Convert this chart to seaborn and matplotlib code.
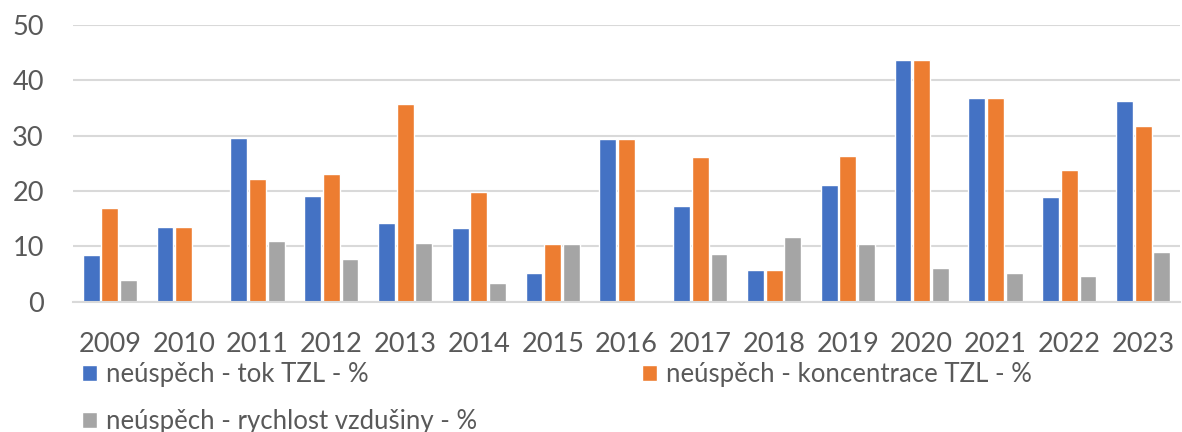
import matplotlib
matplotlib.use("Agg")
import matplotlib.pyplot as plt
from matplotlib.patches import Patch
import seaborn as sns
import pandas as pd

years = ["2009", "2010", "2011", "2012", "2013", "2014", "2015", "2016",
         "2017", "2018", "2019", "2020", "2021", "2022", "2023"]
tok_tzl = [8.4, 13.5, 29.5, 19.1, 14.2, 13.3, 5.1, 29.4, 17.3, 5.8, 21.0, 43.7, 36.8, 19.0, 36.3]
koncentrace_tzl = [16.9, 13.5, 22.1, 23.1, 35.7, 19.9, 10.4, 29.4, 26.1, 5.8, 26.3, 43.7, 36.8, 23.8, 31.8]
rychlost_vzdusiny = [4.0, 0.0, 11.0, 7.7, 10.6, 3.3, 10.4, 0.0, 8.6, 11.7, 10.4, 6.1, 5.1, 4.7, 9.0]
series_names = ["neúspěch - tok TZL - %",
                "neúspěch - koncentrace TZL - %",
                "neúspěch - rychlost vzdušiny - %"]
colors = ["#4472C4", "#ED7D31", "#A5A5A5"]

df = pd.DataFrame({
    "rok": years * 3,
    "hodnota": tok_tzl + koncentrace_tzl + rychlost_vzdusiny,
    "serie": [series_names[0]] * len(years) + [series_names[1]] * len(years)
             + [series_names[2]] * len(years),
})

sns.set_theme(style="white")
plt.rcParams["font.family"] = ["Lato", "DejaVu Sans"]
text_color = "#595959"
grid_color = "#D9D9D9"

fig = plt.figure(figsize=(11.82, 4.32), dpi=100)
ax = fig.add_axes([73 / 1182, 130.3 / 432, 1107 / 1182, 276.7 / 432])

sns.barplot(data=df, x="rok", y="hodnota", hue="serie", order=years,
            hue_order=series_names, palette=colors, width=0.76, gap=0.1,
            saturation=1, ax=ax, legend=False)

ax.set_ylim(0, 50)
ax.set_yticks(range(0, 51, 10))
ax.set_xlim(-0.5, len(years) - 0.5)
ax.set_xlabel("")
ax.set_ylabel("")
ax.grid(axis="y", color=grid_color, linewidth=1.5)
ax.set_axisbelow(True)
for side in ["top", "right", "left"]:
    ax.spines[side].set_visible(False)
ax.spines["bottom"].set_color(grid_color)
ax.spines["bottom"].set_linewidth(1.5)
ax.tick_params(axis="both", length=0, labelsize=19.5, labelcolor=text_color)
ax.tick_params(axis="y", pad=21)
ax.tick_params(axis="x", pad=22)

handles = [Patch(facecolor=colors[0]), Patch(facecolor=colors[2]),
           Patch(facecolor=colors[1])]
labels = [series_names[0], series_names[2], series_names[1]]
leg = fig.legend(handles, labels, ncol=2, loc="upper left",
                 bbox_to_anchor=(82 / 1182, 1 - 362 / 432), frameon=False,
                 fontsize=18.5, labelcolor=text_color, handlelength=0.6,
                 handleheight=0.6, handletextpad=0.35, columnspacing=6.4,
                 labelspacing=0.85, borderaxespad=0, borderpad=0)

fig.savefig("out.png", dpi=100)
